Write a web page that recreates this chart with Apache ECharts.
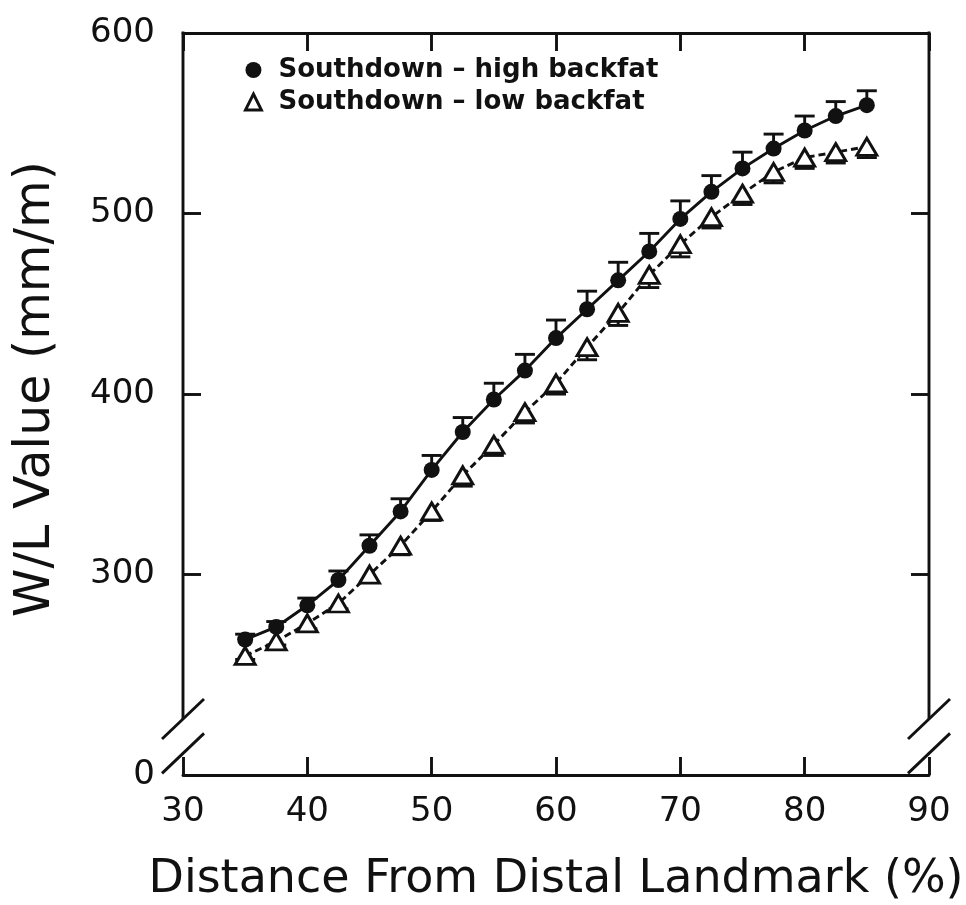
<!DOCTYPE html>
<html>
<head>
<meta charset="utf-8">
<script src="https://cdn.jsdelivr.net/npm/echarts@6/dist/echarts.min.js"></script>
<style>
  html, body { margin: 0; padding: 0; background: #fff; }
  #chart { width: 966px; height: 905px; }
</style>
</head>
<body>
<div id="chart"></div>
<script>
// Distance from distal landmark (%) at which W/L was measured
const distance = [35, 37.5, 40, 42.5, 45, 47.5, 50, 52.5, 55, 57.5, 60, 62.5, 65, 67.5, 70, 72.5, 75, 77.5, 80, 82.5, 85];

// Southdown – high backfat: mean W/L (mm/m) and standard error
const highBackfat = [264, 271, 283, 297, 316, 335, 358, 379, 397, 413, 431, 447, 463, 479, 497, 512, 525, 536, 546, 554, 560];
const highSE      = [3, 3, 4, 5, 6, 7, 8, 8, 9, 9, 10, 10, 10, 10, 10, 9, 9, 8, 8, 8, 8];

// Southdown – low backfat: mean W/L (mm/m) and standard error
const lowBackfat = [255, 263, 273, 284, 300, 316, 335, 355, 372, 390, 406, 426, 445, 466, 483, 498, 511, 523, 531, 534, 537];
const lowSE      = [2, 2, 3, 3, 4, 5, 5, 6, 6, 6, 6, 7, 7, 7, 7, 6, 6, 6, 6, 6, 6];

// Axis ticks; the value axis is broken below 300 and its foot is labelled 0
const xTicks = [30, 40, 50, 60, 70, 80, 90];
const yTicks = [300, 400, 500, 600];
const yFoot = 189;
const yBreakUpper = 220;
const yBreakLower = 201;

const seriesNames = ['Southdown \u2013 high backfat', 'Southdown \u2013 low backfat'];

const INK = '#111';
const FONT = '"DejaVu Sans", sans-serif';
const LW = 2.9;

const chart = echarts.init(document.getElementById('chart'), null, { renderer: 'canvas' });

function errorBars(values, errs, dir) {
  return {
    type: 'custom',
    silent: true,
    z: 1,
    data: distance.map((d, i) => [d, values[i], values[i] + dir * errs[i]]),
    renderItem: (params, api) => {
      const p0 = api.coord([api.value(0), api.value(1)]);
      const p1 = api.coord([api.value(0), api.value(2)]);
      const half = 10;
      const st = { stroke: INK, lineWidth: LW };
      return {
        type: 'group',
        children: [
          { type: 'line', shape: { x1: p0[0], y1: p0[1], x2: p1[0], y2: p1[1] }, style: st },
          { type: 'line', shape: { x1: p1[0] - half, y1: p1[1], x2: p1[0] + half, y2: p1[1] }, style: st }
        ]
      };
    }
  };
}

const xAxisCommon = {
  type: 'value',
  min: xTicks[0],
  max: xTicks[xTicks.length - 1],
  interval: 10,
  splitLine: { show: false },
  axisLine: { show: true, lineStyle: { color: INK, width: LW } },
  axisTick: { show: true, inside: true, length: 18, lineStyle: { color: INK, width: LW } }
};

const yAxisCommon = {
  type: 'value',
  min: yFoot,
  max: 600,
  splitLine: { show: false },
  axisLine: { show: false },
  axisTick: { show: true, inside: true, length: 18, customValues: yTicks, lineStyle: { color: INK, width: LW } }
};

const option = {
  backgroundColor: '#fff',
  animation: false,
  grid: { left: 183, right: 37, top: 33, bottom: 130, containLabel: false, outerBoundsMode: 'none' },
  legend: {
    orient: 'vertical',
    left: 239,
    top: 51,
    itemGap: 4,
    itemWidth: 16,
    itemHeight: 16,
    selectedMode: false,
    textStyle: { fontFamily: FONT, fontWeight: 'bold', fontSize: 26, lineHeight: 28, color: INK, padding: [0, 0, 0, 12] },
    data: [
      { name: seriesNames[0], icon: 'circle', itemStyle: { color: INK, borderWidth: 0 } },
      { name: seriesNames[1], icon: 'triangle', itemStyle: { color: '#fff', borderColor: INK, borderWidth: LW } }
    ]
  },
  xAxis: [
    Object.assign({}, xAxisCommon, {
      position: 'bottom',
      name: 'Distance From Distal Landmark (%)',
      nameLocation: 'middle',
      nameGap: 82,
      nameTextStyle: { fontFamily: FONT, fontSize: 46, color: INK },
      axisLabel: { show: true, margin: 20, fontFamily: FONT, fontSize: 34, color: INK }
    }),
    Object.assign({}, xAxisCommon, {
      position: 'top',
      axisLabel: { show: false }
    })
  ],
  yAxis: [
    Object.assign({}, yAxisCommon, {
      position: 'left',
      name: 'W/L Value (mm/m)',
      nameLocation: 'middle',
      nameRotate: 90,
      nameGap: 122,
      nameTextStyle: { fontFamily: FONT, fontSize: 49, color: INK, padding: [0, 0, 0, 30] },
      axisLabel: {
        show: true,
        margin: 28,
        fontFamily: FONT,
        fontSize: 34,
        color: INK,
        customValues: [yFoot].concat(yTicks),
        formatter: v => (v < 250 ? '0' : String(v))
      }
    }),
    Object.assign({}, yAxisCommon, {
      position: 'right',
      axisLabel: { show: false }
    })
  ],
  series: [
    errorBars(highBackfat, highSE, 1),
    errorBars(lowBackfat, lowSE, -1),
    {
      name: seriesNames[0],
      type: 'line',
      z: 3,
      data: distance.map((d, i) => [d, highBackfat[i]]),
      symbol: 'circle',
      symbolSize: 16,
      showAllSymbol: true,
      lineStyle: { color: INK, width: LW, type: 'solid' },
      itemStyle: { color: INK, borderWidth: 0 }
    },
    {
      name: seriesNames[1],
      type: 'line',
      z: 3,
      data: distance.map((d, i) => [d, lowBackfat[i]]),
      symbol: 'triangle',
      symbolSize: [20, 17],
      showAllSymbol: true,
      lineStyle: { color: INK, width: LW, type: [7, 4] },
      itemStyle: { color: '#fff', borderColor: INK, borderWidth: LW }
    }
  ]
};

chart.setOption(option);

// Vertical frame lines with the axis break, plus the // break marks on both sides
function px(x, y) { return chart.convertToPixel({ xAxisIndex: 0, yAxisIndex: 0 }, [x, y]); }
const lineStyle = { stroke: INK, lineWidth: LW };
const graphics = [];
[xTicks[0], xTicks[xTicks.length - 1]].forEach(xv => {
  const top = px(xv, 600);
  const brk = px(xv, yBreakUpper);
  graphics.push({ type: 'line', shape: { x1: top[0], y1: top[1] - LW / 2, x2: brk[0], y2: brk[1] }, style: lineStyle, z: 10 });
  [yBreakUpper, yBreakLower].forEach(yv => {
    const c = px(xv, yv);
    graphics.push({ type: 'line', shape: { x1: c[0] - 21, y1: c[1] + 20, x2: c[0] + 21, y2: c[1] - 20 }, style: lineStyle, z: 10 });
  });
});
chart.setOption({ graphic: graphics });
</script>
</body>
</html>
